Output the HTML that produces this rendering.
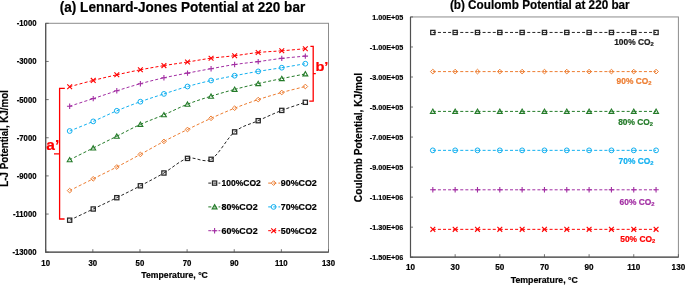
<!DOCTYPE html>
<html><head><meta charset="utf-8"><style>
html,body{margin:0;padding:0;background:#fff;}
body{width:685px;height:285px;overflow:hidden;}
svg{display:block;font-family:"Liberation Sans", sans-serif;will-change:transform;}

</style></head><body>
<svg width="685" height="285" viewBox="0 0 685 285">
<rect width="685" height="285" fill="#fff"/>
<rect x="45.7" y="23.3" width="282.8" height="228.89999999999998" fill="none" stroke="#8C8C8C" stroke-width="1"/>
<path d="M45.7,23.3 V252.2 H328.5" fill="none" stroke="#505050" stroke-width="1.2"/>
<path d="M45.7,23.30 h3" stroke="#505050" stroke-width="0.8"/>
<text transform="translate(36.50,26.30) scale(0.92,1)" font-size="8.4" font-weight="bold" text-anchor="end" fill="#000" stroke="#000" stroke-width="0.2">-1000</text>
<path d="M45.7,61.45 h3" stroke="#505050" stroke-width="0.8"/>
<text transform="translate(36.50,64.45) scale(0.92,1)" font-size="8.4" font-weight="bold" text-anchor="end" fill="#000" stroke="#000" stroke-width="0.2">-3000</text>
<path d="M45.7,99.60 h3" stroke="#505050" stroke-width="0.8"/>
<text transform="translate(36.50,102.60) scale(0.92,1)" font-size="8.4" font-weight="bold" text-anchor="end" fill="#000" stroke="#000" stroke-width="0.2">-5000</text>
<path d="M45.7,137.75 h3" stroke="#505050" stroke-width="0.8"/>
<text transform="translate(36.50,140.75) scale(0.92,1)" font-size="8.4" font-weight="bold" text-anchor="end" fill="#000" stroke="#000" stroke-width="0.2">-7000</text>
<path d="M45.7,175.90 h3" stroke="#505050" stroke-width="0.8"/>
<text transform="translate(36.50,178.90) scale(0.92,1)" font-size="8.4" font-weight="bold" text-anchor="end" fill="#000" stroke="#000" stroke-width="0.2">-9000</text>
<path d="M45.7,214.05 h3" stroke="#505050" stroke-width="0.8"/>
<text transform="translate(36.50,217.05) scale(0.92,1)" font-size="8.4" font-weight="bold" text-anchor="end" fill="#000" stroke="#000" stroke-width="0.2">-11000</text>
<path d="M45.7,252.20 h3" stroke="#505050" stroke-width="0.8"/>
<text transform="translate(36.50,255.20) scale(0.92,1)" font-size="8.4" font-weight="bold" text-anchor="end" fill="#000" stroke="#000" stroke-width="0.2">-13000</text>
<path d="M45.70,252.2 v-3" stroke="#505050" stroke-width="0.8"/>
<text transform="translate(45.70,265.60) scale(0.93,1)" font-size="8.4" font-weight="bold" text-anchor="middle" fill="#000" stroke="#000" stroke-width="0.2">10</text>
<path d="M92.83,252.2 v-3" stroke="#505050" stroke-width="0.8"/>
<text transform="translate(92.83,265.60) scale(0.93,1)" font-size="8.4" font-weight="bold" text-anchor="middle" fill="#000" stroke="#000" stroke-width="0.2">30</text>
<path d="M139.97,252.2 v-3" stroke="#505050" stroke-width="0.8"/>
<text transform="translate(139.97,265.60) scale(0.93,1)" font-size="8.4" font-weight="bold" text-anchor="middle" fill="#000" stroke="#000" stroke-width="0.2">50</text>
<path d="M187.10,252.2 v-3" stroke="#505050" stroke-width="0.8"/>
<text transform="translate(187.10,265.60) scale(0.93,1)" font-size="8.4" font-weight="bold" text-anchor="middle" fill="#000" stroke="#000" stroke-width="0.2">70</text>
<path d="M234.23,252.2 v-3" stroke="#505050" stroke-width="0.8"/>
<text transform="translate(234.23,265.60) scale(0.93,1)" font-size="8.4" font-weight="bold" text-anchor="middle" fill="#000" stroke="#000" stroke-width="0.2">90</text>
<path d="M281.37,252.2 v-3" stroke="#505050" stroke-width="0.8"/>
<text transform="translate(281.37,265.60) scale(0.93,1)" font-size="8.4" font-weight="bold" text-anchor="middle" fill="#000" stroke="#000" stroke-width="0.2">110</text>
<path d="M328.50,252.2 v-3" stroke="#505050" stroke-width="0.8"/>
<text transform="translate(328.50,265.60) scale(0.93,1)" font-size="8.4" font-weight="bold" text-anchor="middle" fill="#000" stroke="#000" stroke-width="0.2">130</text>
<text x="141.3" y="278.2" font-size="9.0" font-weight="bold" text-anchor="start" fill="#000" stroke="#000" stroke-width="0.2" textLength="66.6" lengthAdjust="spacingAndGlyphs">Temperature, °C</text>
<text x="0" y="0" font-size="10.8" font-weight="bold" text-anchor="middle" fill="#000" stroke="#000" stroke-width="0.2" textLength="96.6" lengthAdjust="spacingAndGlyphs" transform="translate(8.3,138.4) rotate(-90)">L-J Potential, KJ/mol</text>
<text x="59.8" y="11.9" font-size="14.3" font-weight="bold" text-anchor="start" fill="#000" stroke="#000" stroke-width="0.2" textLength="245.4" lengthAdjust="spacingAndGlyphs">(a) Lennard-Jones Potential at 220 bar</text>
<path d="M69.67,220.20 C73.59,218.33 85.38,212.75 93.23,209.00 M93.23,209.00 C101.09,205.25 108.94,201.57 116.80,197.70 M116.80,197.70 C124.66,193.83 132.51,189.92 140.37,185.80 M140.37,185.80 C148.22,181.68 156.08,177.57 163.93,173.00 M163.93,173.00 C171.79,168.43 179.64,160.68 187.50,158.40 M187.50,158.40 C195.36,156.12 203.21,163.72 211.07,159.30 M211.07,159.30 C218.92,154.88 226.78,138.33 234.63,131.90 M234.63,131.90 C242.49,125.47 250.34,124.28 258.20,120.70 M258.20,120.70 C266.06,117.12 273.91,113.47 281.77,110.40 M281.77,110.40 C289.62,107.33 301.41,103.65 305.33,102.30" fill="none" stroke="#262626" stroke-width="1.0" stroke-dasharray="3 2.1"/>
<rect x="67.57" y="218.10" width="4.20" height="4.20" fill="none" stroke="#262626" stroke-width="1.25"/>
<rect x="91.13" y="206.90" width="4.20" height="4.20" fill="none" stroke="#262626" stroke-width="1.25"/>
<rect x="114.70" y="195.60" width="4.20" height="4.20" fill="none" stroke="#262626" stroke-width="1.25"/>
<rect x="138.27" y="183.70" width="4.20" height="4.20" fill="none" stroke="#262626" stroke-width="1.25"/>
<rect x="161.83" y="170.90" width="4.20" height="4.20" fill="none" stroke="#262626" stroke-width="1.25"/>
<rect x="185.40" y="156.30" width="4.20" height="4.20" fill="none" stroke="#262626" stroke-width="1.25"/>
<rect x="208.97" y="157.20" width="4.20" height="4.20" fill="none" stroke="#262626" stroke-width="1.25"/>
<rect x="232.53" y="129.80" width="4.20" height="4.20" fill="none" stroke="#262626" stroke-width="1.25"/>
<rect x="256.10" y="118.60" width="4.20" height="4.20" fill="none" stroke="#262626" stroke-width="1.25"/>
<rect x="279.67" y="108.30" width="4.20" height="4.20" fill="none" stroke="#262626" stroke-width="1.25"/>
<rect x="303.23" y="100.20" width="4.20" height="4.20" fill="none" stroke="#262626" stroke-width="1.25"/>
<path d="M69.67,190.60 C73.59,188.63 85.38,182.73 93.23,178.80 M93.23,178.80 C101.09,174.87 108.94,171.07 116.80,167.00 M116.80,167.00 C124.66,162.93 132.51,158.67 140.37,154.40 M140.37,154.40 C148.22,150.13 156.08,145.55 163.93,141.40 M163.93,141.40 C171.79,137.25 179.64,133.35 187.50,129.50 M187.50,129.50 C195.36,125.65 203.21,121.85 211.07,118.30 M211.07,118.30 C218.92,114.75 226.78,111.32 234.63,108.20 M234.63,108.20 C242.49,105.08 250.34,102.22 258.20,99.60 M258.20,99.60 C266.06,96.98 273.91,94.68 281.77,92.50 M281.77,92.50 C289.62,90.32 301.41,87.50 305.33,86.50" fill="none" stroke="#ED7D31" stroke-width="1.0" stroke-dasharray="3 2.1"/>
<path d="M69.67,188.25 L72.02,190.60 L69.67,192.95 L67.32,190.60 Z" fill="none" stroke="#ED7D31" stroke-width="1.0"/>
<path d="M93.23,176.45 L95.58,178.80 L93.23,181.15 L90.88,178.80 Z" fill="none" stroke="#ED7D31" stroke-width="1.0"/>
<path d="M116.80,164.65 L119.15,167.00 L116.80,169.35 L114.45,167.00 Z" fill="none" stroke="#ED7D31" stroke-width="1.0"/>
<path d="M140.37,152.05 L142.72,154.40 L140.37,156.75 L138.02,154.40 Z" fill="none" stroke="#ED7D31" stroke-width="1.0"/>
<path d="M163.93,139.05 L166.28,141.40 L163.93,143.75 L161.58,141.40 Z" fill="none" stroke="#ED7D31" stroke-width="1.0"/>
<path d="M187.50,127.15 L189.85,129.50 L187.50,131.85 L185.15,129.50 Z" fill="none" stroke="#ED7D31" stroke-width="1.0"/>
<path d="M211.07,115.95 L213.42,118.30 L211.07,120.65 L208.72,118.30 Z" fill="none" stroke="#ED7D31" stroke-width="1.0"/>
<path d="M234.63,105.85 L236.98,108.20 L234.63,110.55 L232.28,108.20 Z" fill="none" stroke="#ED7D31" stroke-width="1.0"/>
<path d="M258.20,97.25 L260.55,99.60 L258.20,101.95 L255.85,99.60 Z" fill="none" stroke="#ED7D31" stroke-width="1.0"/>
<path d="M281.77,90.15 L284.12,92.50 L281.77,94.85 L279.42,92.50 Z" fill="none" stroke="#ED7D31" stroke-width="1.0"/>
<path d="M305.33,84.15 L307.68,86.50 L305.33,88.85 L302.98,86.50 Z" fill="none" stroke="#ED7D31" stroke-width="1.0"/>
<path d="M69.67,159.80 C73.59,157.83 85.38,151.93 93.23,148.00 M93.23,148.00 C101.09,144.07 108.94,140.13 116.80,136.20 M116.80,136.20 C124.66,132.27 132.51,127.97 140.37,124.40 M140.37,124.40 C148.22,120.83 156.08,118.17 163.93,114.80 M163.93,114.80 C171.79,111.43 179.64,107.30 187.50,104.20 M187.50,104.20 C195.36,101.10 203.21,98.67 211.07,96.20 M211.07,96.20 C218.92,93.73 226.78,91.50 234.63,89.40 M234.63,89.40 C242.49,87.30 250.34,85.40 258.20,83.60 M258.20,83.60 C266.06,81.80 273.91,80.22 281.77,78.60 M281.77,78.60 C289.62,76.98 301.41,74.68 305.33,73.90" fill="none" stroke="#247B29" stroke-width="1.0" stroke-dasharray="3 2.1"/>
<path d="M69.67,157.50 L72.12,161.80 L67.22,161.80 Z" fill="none" stroke="#247B29" stroke-width="1.1" stroke-linejoin="miter"/>
<path d="M93.23,145.70 L95.68,150.00 L90.78,150.00 Z" fill="none" stroke="#247B29" stroke-width="1.1" stroke-linejoin="miter"/>
<path d="M116.80,133.90 L119.25,138.20 L114.35,138.20 Z" fill="none" stroke="#247B29" stroke-width="1.1" stroke-linejoin="miter"/>
<path d="M140.37,122.10 L142.82,126.40 L137.92,126.40 Z" fill="none" stroke="#247B29" stroke-width="1.1" stroke-linejoin="miter"/>
<path d="M163.93,112.50 L166.38,116.80 L161.48,116.80 Z" fill="none" stroke="#247B29" stroke-width="1.1" stroke-linejoin="miter"/>
<path d="M187.50,101.90 L189.95,106.20 L185.05,106.20 Z" fill="none" stroke="#247B29" stroke-width="1.1" stroke-linejoin="miter"/>
<path d="M211.07,93.90 L213.52,98.20 L208.62,98.20 Z" fill="none" stroke="#247B29" stroke-width="1.1" stroke-linejoin="miter"/>
<path d="M234.63,87.10 L237.08,91.40 L232.18,91.40 Z" fill="none" stroke="#247B29" stroke-width="1.1" stroke-linejoin="miter"/>
<path d="M258.20,81.30 L260.65,85.60 L255.75,85.60 Z" fill="none" stroke="#247B29" stroke-width="1.1" stroke-linejoin="miter"/>
<path d="M281.77,76.30 L284.22,80.60 L279.32,80.60 Z" fill="none" stroke="#247B29" stroke-width="1.1" stroke-linejoin="miter"/>
<path d="M305.33,71.60 L307.78,75.90 L302.88,75.90 Z" fill="none" stroke="#247B29" stroke-width="1.1" stroke-linejoin="miter"/>
<path d="M69.67,131.00 C73.59,129.40 85.38,124.77 93.23,121.40 M93.23,121.40 C101.09,118.03 108.94,114.08 116.80,110.80 M116.80,110.80 C124.66,107.52 132.51,104.52 140.37,101.70 M140.37,101.70 C148.22,98.88 156.08,96.43 163.93,93.90 M163.93,93.90 C171.79,91.37 179.64,88.73 187.50,86.50 M187.50,86.50 C195.36,84.27 203.21,82.30 211.07,80.50 M211.07,80.50 C218.92,78.70 226.78,77.22 234.63,75.70 M234.63,75.70 C242.49,74.18 250.34,72.73 258.20,71.40 M258.20,71.40 C266.06,70.07 273.91,68.98 281.77,67.70 M281.77,67.70 C289.62,66.42 301.41,64.37 305.33,63.70" fill="none" stroke="#12B0F0" stroke-width="1.0" stroke-dasharray="3 2.1"/>
<circle cx="69.67" cy="131.00" r="2.40" fill="none" stroke="#12B0F0" stroke-width="1.0"/>
<circle cx="93.23" cy="121.40" r="2.40" fill="none" stroke="#12B0F0" stroke-width="1.0"/>
<circle cx="116.80" cy="110.80" r="2.40" fill="none" stroke="#12B0F0" stroke-width="1.0"/>
<circle cx="140.37" cy="101.70" r="2.40" fill="none" stroke="#12B0F0" stroke-width="1.0"/>
<circle cx="163.93" cy="93.90" r="2.40" fill="none" stroke="#12B0F0" stroke-width="1.0"/>
<circle cx="187.50" cy="86.50" r="2.40" fill="none" stroke="#12B0F0" stroke-width="1.0"/>
<circle cx="211.07" cy="80.50" r="2.40" fill="none" stroke="#12B0F0" stroke-width="1.0"/>
<circle cx="234.63" cy="75.70" r="2.40" fill="none" stroke="#12B0F0" stroke-width="1.0"/>
<circle cx="258.20" cy="71.40" r="2.40" fill="none" stroke="#12B0F0" stroke-width="1.0"/>
<circle cx="281.77" cy="67.70" r="2.40" fill="none" stroke="#12B0F0" stroke-width="1.0"/>
<circle cx="305.33" cy="63.70" r="2.40" fill="none" stroke="#12B0F0" stroke-width="1.0"/>
<path d="M69.67,106.20 C73.59,104.93 85.38,101.17 93.23,98.60 M93.23,98.60 C101.09,96.03 108.94,93.28 116.80,90.80 M116.80,90.80 C124.66,88.32 132.51,85.87 140.37,83.70 M140.37,83.70 C148.22,81.53 156.08,79.57 163.93,77.80 M163.93,77.80 C171.79,76.03 179.64,74.62 187.50,73.10 M187.50,73.10 C195.36,71.58 203.21,70.13 211.07,68.70 M211.07,68.70 C218.92,67.27 226.78,65.68 234.63,64.50 M234.63,64.50 C242.49,63.32 250.34,62.62 258.20,61.60 M258.20,61.60 C266.06,60.58 273.91,59.32 281.77,58.40 M281.77,58.40 C289.62,57.48 301.41,56.48 305.33,56.10" fill="none" stroke="#A22EA3" stroke-width="1.0" stroke-dasharray="3 2.1"/>
<path d="M66.97,106.20 H72.37 M69.67,103.50 V108.90" stroke="#A22EA3" stroke-width="1.1"/>
<path d="M90.53,98.60 H95.93 M93.23,95.90 V101.30" stroke="#A22EA3" stroke-width="1.1"/>
<path d="M114.10,90.80 H119.50 M116.80,88.10 V93.50" stroke="#A22EA3" stroke-width="1.1"/>
<path d="M137.67,83.70 H143.07 M140.37,81.00 V86.40" stroke="#A22EA3" stroke-width="1.1"/>
<path d="M161.23,77.80 H166.63 M163.93,75.10 V80.50" stroke="#A22EA3" stroke-width="1.1"/>
<path d="M184.80,73.10 H190.20 M187.50,70.40 V75.80" stroke="#A22EA3" stroke-width="1.1"/>
<path d="M208.37,68.70 H213.77 M211.07,66.00 V71.40" stroke="#A22EA3" stroke-width="1.1"/>
<path d="M231.93,64.50 H237.33 M234.63,61.80 V67.20" stroke="#A22EA3" stroke-width="1.1"/>
<path d="M255.50,61.60 H260.90 M258.20,58.90 V64.30" stroke="#A22EA3" stroke-width="1.1"/>
<path d="M279.07,58.40 H284.47 M281.77,55.70 V61.10" stroke="#A22EA3" stroke-width="1.1"/>
<path d="M302.63,56.10 H308.03 M305.33,53.40 V58.80" stroke="#A22EA3" stroke-width="1.1"/>
<path d="M69.67,86.70 C73.59,85.65 85.38,82.38 93.23,80.40 M93.23,80.40 C101.09,78.42 108.94,76.57 116.80,74.80 M116.80,74.80 C124.66,73.03 132.51,71.33 140.37,69.80 M140.37,69.80 C148.22,68.27 156.08,66.90 163.93,65.60 M163.93,65.60 C171.79,64.30 179.64,63.23 187.50,62.00 M187.50,62.00 C195.36,60.77 203.21,59.25 211.07,58.20 M211.07,58.20 C218.92,57.15 226.78,56.65 234.63,55.70 M234.63,55.70 C242.49,54.75 250.34,53.32 258.20,52.50 M258.20,52.50 C266.06,51.68 273.91,51.43 281.77,50.80 M281.77,50.80 C289.62,50.17 301.41,49.05 305.33,48.70" fill="none" stroke="#FF0000" stroke-width="1.0" stroke-dasharray="3 2.1"/>
<path d="M67.27,84.30 L72.07,89.10 M72.07,84.30 L67.27,89.10" stroke="#FF0000" stroke-width="1.1"/>
<path d="M90.83,78.00 L95.63,82.80 M95.63,78.00 L90.83,82.80" stroke="#FF0000" stroke-width="1.1"/>
<path d="M114.40,72.40 L119.20,77.20 M119.20,72.40 L114.40,77.20" stroke="#FF0000" stroke-width="1.1"/>
<path d="M137.97,67.40 L142.77,72.20 M142.77,67.40 L137.97,72.20" stroke="#FF0000" stroke-width="1.1"/>
<path d="M161.53,63.20 L166.33,68.00 M166.33,63.20 L161.53,68.00" stroke="#FF0000" stroke-width="1.1"/>
<path d="M185.10,59.60 L189.90,64.40 M189.90,59.60 L185.10,64.40" stroke="#FF0000" stroke-width="1.1"/>
<path d="M208.67,55.80 L213.47,60.60 M213.47,55.80 L208.67,60.60" stroke="#FF0000" stroke-width="1.1"/>
<path d="M232.23,53.30 L237.03,58.10 M237.03,53.30 L232.23,58.10" stroke="#FF0000" stroke-width="1.1"/>
<path d="M255.80,50.10 L260.60,54.90 M260.60,50.10 L255.80,54.90" stroke="#FF0000" stroke-width="1.1"/>
<path d="M279.37,48.40 L284.17,53.20 M284.17,48.40 L279.37,53.20" stroke="#FF0000" stroke-width="1.1"/>
<path d="M302.93,46.30 L307.73,51.10 M307.73,46.30 L302.93,51.10" stroke="#FF0000" stroke-width="1.1"/>
<path d="M208.3,183.1 H220.3" stroke="#262626" stroke-width="1.0" stroke-dasharray="3 2.1"/>
<rect x="212.50" y="181.00" width="4.20" height="4.20" fill="none" stroke="#262626" stroke-width="1.25"/>
<text x="221.6" y="186.1" font-size="8.3" font-weight="bold" text-anchor="start" fill="#000" stroke="#000" stroke-width="0.2" textLength="39.2" lengthAdjust="spacingAndGlyphs">100%CO2</text>
<path d="M268.2,183.1 H280.2" stroke="#ED7D31" stroke-width="1.0" stroke-dasharray="3 2.1"/>
<path d="M273.60,180.75 L275.95,183.10 L273.60,185.45 L271.25,183.10 Z" fill="none" stroke="#ED7D31" stroke-width="1.0"/>
<text x="280.8" y="186.1" font-size="8.3" font-weight="bold" text-anchor="start" fill="#000" stroke="#000" stroke-width="0.2" textLength="36.0" lengthAdjust="spacingAndGlyphs">90%CO2</text>
<path d="M208.3,206.9 H220.3" stroke="#247B29" stroke-width="1.0" stroke-dasharray="3 2.1"/>
<path d="M214.60,204.60 L217.05,208.90 L212.15,208.90 Z" fill="none" stroke="#247B29" stroke-width="1.1" stroke-linejoin="miter"/>
<text x="221.6" y="209.9" font-size="8.3" font-weight="bold" text-anchor="start" fill="#000" stroke="#000" stroke-width="0.2" textLength="36.0" lengthAdjust="spacingAndGlyphs">80%CO2</text>
<path d="M268.2,206.9 H280.2" stroke="#12B0F0" stroke-width="1.0" stroke-dasharray="3 2.1"/>
<circle cx="273.60" cy="206.90" r="2.40" fill="none" stroke="#12B0F0" stroke-width="1.0"/>
<text x="280.8" y="209.9" font-size="8.3" font-weight="bold" text-anchor="start" fill="#000" stroke="#000" stroke-width="0.2" textLength="36.0" lengthAdjust="spacingAndGlyphs">70%CO2</text>
<path d="M208.3,230.7 H220.3" stroke="#A22EA3" stroke-width="1.0" stroke-dasharray="3 2.1"/>
<path d="M211.90,230.70 H217.30 M214.60,228.00 V233.40" stroke="#A22EA3" stroke-width="1.1"/>
<text x="221.6" y="233.7" font-size="8.3" font-weight="bold" text-anchor="start" fill="#000" stroke="#000" stroke-width="0.2" textLength="36.0" lengthAdjust="spacingAndGlyphs">60%CO2</text>
<path d="M268.2,230.7 H280.2" stroke="#FF0000" stroke-width="1.0" stroke-dasharray="3 2.1"/>
<path d="M271.20,228.30 L276.00,233.10 M276.00,228.30 L271.20,233.10" stroke="#FF0000" stroke-width="1.1"/>
<text x="280.8" y="233.7" font-size="8.3" font-weight="bold" text-anchor="start" fill="#000" stroke="#000" stroke-width="0.2" textLength="36.0" lengthAdjust="spacingAndGlyphs">50%CO2</text>
<path d="M64.8,88.4 H59.6 V219.0 H64.6 M59.6,153.8 H54.0" fill="none" stroke="#FF0000" stroke-width="1.3"/>
<path d="M310.4,46.3 H313.2 V101.2 H309.3 M313.2,73.6 H315.8" fill="none" stroke="#FF0000" stroke-width="1.3"/>
<text x="46.3" y="149.6" font-size="15.5" font-weight="bold" text-anchor="start" fill="#FF0000" stroke="#FF0000" stroke-width="0.2">a’</text>
<text transform="translate(315.40,71.10) scale(1.1,1)" font-size="13.3" font-weight="bold" text-anchor="start" fill="#FF0000" stroke="#FF0000" stroke-width="0.2">b’</text>
<rect x="410.5" y="16.95" width="267.9" height="240.25" fill="none" stroke="#8C8C8C" stroke-width="1"/>
<path d="M410.5,16.95 V257.2 H678.4" fill="none" stroke="#505050" stroke-width="1.2"/>
<path d="M410.5,16.95 h2.5" stroke="#505050" stroke-width="0.8"/>
<text transform="translate(403.30,19.65) scale(0.95,1)" font-size="7.6" font-weight="bold" text-anchor="end" fill="#000" stroke="#000" stroke-width="0.2">1.00E+05</text>
<path d="M410.5,46.98 h2.5" stroke="#505050" stroke-width="0.8"/>
<text transform="translate(403.30,49.68) scale(0.95,1)" font-size="7.6" font-weight="bold" text-anchor="end" fill="#000" stroke="#000" stroke-width="0.2">-1.00E+05</text>
<path d="M410.5,77.01 h2.5" stroke="#505050" stroke-width="0.8"/>
<text transform="translate(403.30,79.71) scale(0.95,1)" font-size="7.6" font-weight="bold" text-anchor="end" fill="#000" stroke="#000" stroke-width="0.2">-3.00E+05</text>
<path d="M410.5,107.04 h2.5" stroke="#505050" stroke-width="0.8"/>
<text transform="translate(403.30,109.74) scale(0.95,1)" font-size="7.6" font-weight="bold" text-anchor="end" fill="#000" stroke="#000" stroke-width="0.2">-5.00E+05</text>
<path d="M410.5,137.07 h2.5" stroke="#505050" stroke-width="0.8"/>
<text transform="translate(403.30,139.77) scale(0.95,1)" font-size="7.6" font-weight="bold" text-anchor="end" fill="#000" stroke="#000" stroke-width="0.2">-7.00E+05</text>
<path d="M410.5,167.11 h2.5" stroke="#505050" stroke-width="0.8"/>
<text transform="translate(403.30,169.81) scale(0.95,1)" font-size="7.6" font-weight="bold" text-anchor="end" fill="#000" stroke="#000" stroke-width="0.2">-9.00E+05</text>
<path d="M410.5,197.14 h2.5" stroke="#505050" stroke-width="0.8"/>
<text transform="translate(403.30,199.84) scale(0.95,1)" font-size="7.6" font-weight="bold" text-anchor="end" fill="#000" stroke="#000" stroke-width="0.2">-1.10E+06</text>
<path d="M410.5,227.17 h2.5" stroke="#505050" stroke-width="0.8"/>
<text transform="translate(403.30,229.87) scale(0.95,1)" font-size="7.6" font-weight="bold" text-anchor="end" fill="#000" stroke="#000" stroke-width="0.2">-1.30E+06</text>
<path d="M410.5,257.20 h2.5" stroke="#505050" stroke-width="0.8"/>
<text transform="translate(403.30,259.90) scale(0.95,1)" font-size="7.6" font-weight="bold" text-anchor="end" fill="#000" stroke="#000" stroke-width="0.2">-1.50E+06</text>
<path d="M410.50,257.2 v-3" stroke="#505050" stroke-width="0.8"/>
<text transform="translate(410.50,270.40) scale(0.96,1)" font-size="8.5" font-weight="bold" text-anchor="middle" fill="#000" stroke="#000" stroke-width="0.2">10</text>
<path d="M455.15,257.2 v-3" stroke="#505050" stroke-width="0.8"/>
<text transform="translate(455.15,270.40) scale(0.96,1)" font-size="8.5" font-weight="bold" text-anchor="middle" fill="#000" stroke="#000" stroke-width="0.2">30</text>
<path d="M499.80,257.2 v-3" stroke="#505050" stroke-width="0.8"/>
<text transform="translate(499.80,270.40) scale(0.96,1)" font-size="8.5" font-weight="bold" text-anchor="middle" fill="#000" stroke="#000" stroke-width="0.2">50</text>
<path d="M544.45,257.2 v-3" stroke="#505050" stroke-width="0.8"/>
<text transform="translate(544.45,270.40) scale(0.96,1)" font-size="8.5" font-weight="bold" text-anchor="middle" fill="#000" stroke="#000" stroke-width="0.2">70</text>
<path d="M589.10,257.2 v-3" stroke="#505050" stroke-width="0.8"/>
<text transform="translate(589.10,270.40) scale(0.96,1)" font-size="8.5" font-weight="bold" text-anchor="middle" fill="#000" stroke="#000" stroke-width="0.2">90</text>
<path d="M633.75,257.2 v-3" stroke="#505050" stroke-width="0.8"/>
<text transform="translate(633.75,270.40) scale(0.96,1)" font-size="8.5" font-weight="bold" text-anchor="middle" fill="#000" stroke="#000" stroke-width="0.2">110</text>
<path d="M678.40,257.2 v-3" stroke="#505050" stroke-width="0.8"/>
<text transform="translate(678.40,270.40) scale(0.96,1)" font-size="8.5" font-weight="bold" text-anchor="middle" fill="#000" stroke="#000" stroke-width="0.2">130</text>
<text x="510.7" y="283.0" font-size="9.9" font-weight="bold" text-anchor="start" fill="#000" stroke="#000" stroke-width="0.2" textLength="67.2" lengthAdjust="spacingAndGlyphs">Temperature, °C</text>
<text x="0" y="0" font-size="11.8" font-weight="bold" text-anchor="middle" fill="#000" stroke="#000" stroke-width="0.2" textLength="129.3" lengthAdjust="spacingAndGlyphs" transform="translate(362.0,137.5) rotate(-90)">Coulomb Potential, KJ/mol</text>
<text x="449.9" y="8.8" font-size="12.8" font-weight="bold" text-anchor="start" fill="#000" stroke="#000" stroke-width="0.2" textLength="179.8" lengthAdjust="spacingAndGlyphs">(b) Coulomb Potential at 220 bar</text>
<path d="M432.82,32.45 H455.15 M455.15,32.45 H477.48 M477.48,32.45 H499.80 M499.80,32.45 H522.12 M522.12,32.45 H544.45 M544.45,32.45 H566.77 M566.77,32.45 H589.10 M589.10,32.45 H611.42 M611.42,32.45 H633.75 M633.75,32.45 H656.07" stroke="#262626" stroke-width="1.0" stroke-dasharray="3 2.1"/>
<rect x="430.72" y="30.35" width="4.20" height="4.20" fill="none" stroke="#262626" stroke-width="1.25"/>
<rect x="453.05" y="30.35" width="4.20" height="4.20" fill="none" stroke="#262626" stroke-width="1.25"/>
<rect x="475.38" y="30.35" width="4.20" height="4.20" fill="none" stroke="#262626" stroke-width="1.25"/>
<rect x="497.70" y="30.35" width="4.20" height="4.20" fill="none" stroke="#262626" stroke-width="1.25"/>
<rect x="520.02" y="30.35" width="4.20" height="4.20" fill="none" stroke="#262626" stroke-width="1.25"/>
<rect x="542.35" y="30.35" width="4.20" height="4.20" fill="none" stroke="#262626" stroke-width="1.25"/>
<rect x="564.67" y="30.35" width="4.20" height="4.20" fill="none" stroke="#262626" stroke-width="1.25"/>
<rect x="587.00" y="30.35" width="4.20" height="4.20" fill="none" stroke="#262626" stroke-width="1.25"/>
<rect x="609.32" y="30.35" width="4.20" height="4.20" fill="none" stroke="#262626" stroke-width="1.25"/>
<rect x="631.65" y="30.35" width="4.20" height="4.20" fill="none" stroke="#262626" stroke-width="1.25"/>
<rect x="653.97" y="30.35" width="4.20" height="4.20" fill="none" stroke="#262626" stroke-width="1.25"/>
<path d="M432.82,71.6 H455.15 M455.15,71.6 H477.48 M477.48,71.6 H499.80 M499.80,71.6 H522.12 M522.12,71.6 H544.45 M544.45,71.6 H566.77 M566.77,71.6 H589.10 M589.10,71.6 H611.42 M611.42,71.6 H633.75 M633.75,71.6 H656.07" stroke="#ED7D31" stroke-width="1.0" stroke-dasharray="3 2.1"/>
<path d="M432.82,69.25 L435.18,71.60 L432.82,73.95 L430.47,71.60 Z" fill="none" stroke="#ED7D31" stroke-width="1.0"/>
<path d="M455.15,69.25 L457.50,71.60 L455.15,73.95 L452.80,71.60 Z" fill="none" stroke="#ED7D31" stroke-width="1.0"/>
<path d="M477.48,69.25 L479.83,71.60 L477.48,73.95 L475.12,71.60 Z" fill="none" stroke="#ED7D31" stroke-width="1.0"/>
<path d="M499.80,69.25 L502.15,71.60 L499.80,73.95 L497.45,71.60 Z" fill="none" stroke="#ED7D31" stroke-width="1.0"/>
<path d="M522.12,69.25 L524.48,71.60 L522.12,73.95 L519.77,71.60 Z" fill="none" stroke="#ED7D31" stroke-width="1.0"/>
<path d="M544.45,69.25 L546.80,71.60 L544.45,73.95 L542.10,71.60 Z" fill="none" stroke="#ED7D31" stroke-width="1.0"/>
<path d="M566.77,69.25 L569.12,71.60 L566.77,73.95 L564.42,71.60 Z" fill="none" stroke="#ED7D31" stroke-width="1.0"/>
<path d="M589.10,69.25 L591.45,71.60 L589.10,73.95 L586.75,71.60 Z" fill="none" stroke="#ED7D31" stroke-width="1.0"/>
<path d="M611.42,69.25 L613.77,71.60 L611.42,73.95 L609.07,71.60 Z" fill="none" stroke="#ED7D31" stroke-width="1.0"/>
<path d="M633.75,69.25 L636.10,71.60 L633.75,73.95 L631.40,71.60 Z" fill="none" stroke="#ED7D31" stroke-width="1.0"/>
<path d="M656.07,69.25 L658.42,71.60 L656.07,73.95 L653.72,71.60 Z" fill="none" stroke="#ED7D31" stroke-width="1.0"/>
<path d="M432.82,111.4 H455.15 M455.15,111.4 H477.48 M477.48,111.4 H499.80 M499.80,111.4 H522.12 M522.12,111.4 H544.45 M544.45,111.4 H566.77 M566.77,111.4 H589.10 M589.10,111.4 H611.42 M611.42,111.4 H633.75 M633.75,111.4 H656.07" stroke="#247B29" stroke-width="1.0" stroke-dasharray="3 2.1"/>
<path d="M432.82,109.10 L435.27,113.40 L430.38,113.40 Z" fill="none" stroke="#247B29" stroke-width="1.1" stroke-linejoin="miter"/>
<path d="M455.15,109.10 L457.60,113.40 L452.70,113.40 Z" fill="none" stroke="#247B29" stroke-width="1.1" stroke-linejoin="miter"/>
<path d="M477.48,109.10 L479.93,113.40 L475.03,113.40 Z" fill="none" stroke="#247B29" stroke-width="1.1" stroke-linejoin="miter"/>
<path d="M499.80,109.10 L502.25,113.40 L497.35,113.40 Z" fill="none" stroke="#247B29" stroke-width="1.1" stroke-linejoin="miter"/>
<path d="M522.12,109.10 L524.58,113.40 L519.67,113.40 Z" fill="none" stroke="#247B29" stroke-width="1.1" stroke-linejoin="miter"/>
<path d="M544.45,109.10 L546.90,113.40 L542.00,113.40 Z" fill="none" stroke="#247B29" stroke-width="1.1" stroke-linejoin="miter"/>
<path d="M566.77,109.10 L569.23,113.40 L564.32,113.40 Z" fill="none" stroke="#247B29" stroke-width="1.1" stroke-linejoin="miter"/>
<path d="M589.10,109.10 L591.55,113.40 L586.65,113.40 Z" fill="none" stroke="#247B29" stroke-width="1.1" stroke-linejoin="miter"/>
<path d="M611.42,109.10 L613.88,113.40 L608.97,113.40 Z" fill="none" stroke="#247B29" stroke-width="1.1" stroke-linejoin="miter"/>
<path d="M633.75,109.10 L636.20,113.40 L631.30,113.40 Z" fill="none" stroke="#247B29" stroke-width="1.1" stroke-linejoin="miter"/>
<path d="M656.07,109.10 L658.52,113.40 L653.62,113.40 Z" fill="none" stroke="#247B29" stroke-width="1.1" stroke-linejoin="miter"/>
<path d="M432.82,150.35 H455.15 M455.15,150.35 H477.48 M477.48,150.35 H499.80 M499.80,150.35 H522.12 M522.12,150.35 H544.45 M544.45,150.35 H566.77 M566.77,150.35 H589.10 M589.10,150.35 H611.42 M611.42,150.35 H633.75 M633.75,150.35 H656.07" stroke="#12B0F0" stroke-width="1.0" stroke-dasharray="3 2.1"/>
<circle cx="432.82" cy="150.35" r="2.40" fill="none" stroke="#12B0F0" stroke-width="1.0"/>
<circle cx="455.15" cy="150.35" r="2.40" fill="none" stroke="#12B0F0" stroke-width="1.0"/>
<circle cx="477.48" cy="150.35" r="2.40" fill="none" stroke="#12B0F0" stroke-width="1.0"/>
<circle cx="499.80" cy="150.35" r="2.40" fill="none" stroke="#12B0F0" stroke-width="1.0"/>
<circle cx="522.12" cy="150.35" r="2.40" fill="none" stroke="#12B0F0" stroke-width="1.0"/>
<circle cx="544.45" cy="150.35" r="2.40" fill="none" stroke="#12B0F0" stroke-width="1.0"/>
<circle cx="566.77" cy="150.35" r="2.40" fill="none" stroke="#12B0F0" stroke-width="1.0"/>
<circle cx="589.10" cy="150.35" r="2.40" fill="none" stroke="#12B0F0" stroke-width="1.0"/>
<circle cx="611.42" cy="150.35" r="2.40" fill="none" stroke="#12B0F0" stroke-width="1.0"/>
<circle cx="633.75" cy="150.35" r="2.40" fill="none" stroke="#12B0F0" stroke-width="1.0"/>
<circle cx="656.07" cy="150.35" r="2.40" fill="none" stroke="#12B0F0" stroke-width="1.0"/>
<path d="M432.82,189.8 H455.15 M455.15,189.8 H477.48 M477.48,189.8 H499.80 M499.80,189.8 H522.12 M522.12,189.8 H544.45 M544.45,189.8 H566.77 M566.77,189.8 H589.10 M589.10,189.8 H611.42 M611.42,189.8 H633.75 M633.75,189.8 H656.07" stroke="#A22EA3" stroke-width="1.0" stroke-dasharray="3 2.1"/>
<path d="M430.12,189.80 H435.52 M432.82,187.10 V192.50" stroke="#A22EA3" stroke-width="1.1"/>
<path d="M452.45,189.80 H457.85 M455.15,187.10 V192.50" stroke="#A22EA3" stroke-width="1.1"/>
<path d="M474.78,189.80 H480.18 M477.48,187.10 V192.50" stroke="#A22EA3" stroke-width="1.1"/>
<path d="M497.10,189.80 H502.50 M499.80,187.10 V192.50" stroke="#A22EA3" stroke-width="1.1"/>
<path d="M519.42,189.80 H524.83 M522.12,187.10 V192.50" stroke="#A22EA3" stroke-width="1.1"/>
<path d="M541.75,189.80 H547.15 M544.45,187.10 V192.50" stroke="#A22EA3" stroke-width="1.1"/>
<path d="M564.07,189.80 H569.48 M566.77,187.10 V192.50" stroke="#A22EA3" stroke-width="1.1"/>
<path d="M586.40,189.80 H591.80 M589.10,187.10 V192.50" stroke="#A22EA3" stroke-width="1.1"/>
<path d="M608.72,189.80 H614.12 M611.42,187.10 V192.50" stroke="#A22EA3" stroke-width="1.1"/>
<path d="M631.05,189.80 H636.45 M633.75,187.10 V192.50" stroke="#A22EA3" stroke-width="1.1"/>
<path d="M653.37,189.80 H658.77 M656.07,187.10 V192.50" stroke="#A22EA3" stroke-width="1.1"/>
<path d="M432.82,229.35 H455.15 M455.15,229.35 H477.48 M477.48,229.35 H499.80 M499.80,229.35 H522.12 M522.12,229.35 H544.45 M544.45,229.35 H566.77 M566.77,229.35 H589.10 M589.10,229.35 H611.42 M611.42,229.35 H633.75 M633.75,229.35 H656.07" stroke="#FF0000" stroke-width="1.0" stroke-dasharray="3 2.1"/>
<path d="M430.43,226.95 L435.22,231.75 M435.22,226.95 L430.43,231.75" stroke="#FF0000" stroke-width="1.1"/>
<path d="M452.75,226.95 L457.55,231.75 M457.55,226.95 L452.75,231.75" stroke="#FF0000" stroke-width="1.1"/>
<path d="M475.08,226.95 L479.88,231.75 M479.88,226.95 L475.08,231.75" stroke="#FF0000" stroke-width="1.1"/>
<path d="M497.40,226.95 L502.20,231.75 M502.20,226.95 L497.40,231.75" stroke="#FF0000" stroke-width="1.1"/>
<path d="M519.73,226.95 L524.52,231.75 M524.52,226.95 L519.73,231.75" stroke="#FF0000" stroke-width="1.1"/>
<path d="M542.05,226.95 L546.85,231.75 M546.85,226.95 L542.05,231.75" stroke="#FF0000" stroke-width="1.1"/>
<path d="M564.38,226.95 L569.17,231.75 M569.17,226.95 L564.38,231.75" stroke="#FF0000" stroke-width="1.1"/>
<path d="M586.70,226.95 L591.50,231.75 M591.50,226.95 L586.70,231.75" stroke="#FF0000" stroke-width="1.1"/>
<path d="M609.02,226.95 L613.82,231.75 M613.82,226.95 L609.02,231.75" stroke="#FF0000" stroke-width="1.1"/>
<path d="M631.35,226.95 L636.15,231.75 M636.15,226.95 L631.35,231.75" stroke="#FF0000" stroke-width="1.1"/>
<path d="M653.67,226.95 L658.47,231.75 M658.47,226.95 L653.67,231.75" stroke="#FF0000" stroke-width="1.1"/>
<text x="614.2" y="45.2" font-size="8.4" font-weight="bold" fill="#1a1a1a" stroke="#1a1a1a" stroke-width="0.2">100% CO<tspan font-size="5.8" dy="0.9">2</tspan></text>
<text x="616.6" y="83.9" font-size="8.4" font-weight="bold" fill="#ED7D31" stroke="#ED7D31" stroke-width="0.2">90% CO<tspan font-size="5.8" dy="0.9">2</tspan></text>
<text x="618.2" y="125.2" font-size="8.4" font-weight="bold" fill="#247B29" stroke="#247B29" stroke-width="0.2">80% CO<tspan font-size="5.8" dy="0.9">2</tspan></text>
<text x="618.6" y="164.3" font-size="8.4" font-weight="bold" fill="#12B0F0" stroke="#12B0F0" stroke-width="0.2">70% CO<tspan font-size="5.8" dy="0.9">2</tspan></text>
<text x="619.6" y="204.8" font-size="8.4" font-weight="bold" fill="#A22EA3" stroke="#A22EA3" stroke-width="0.2">60% CO<tspan font-size="5.8" dy="0.9">2</tspan></text>
<text x="620.3" y="241.8" font-size="8.4" font-weight="bold" fill="#FF0000" stroke="#FF0000" stroke-width="0.2">50% CO<tspan font-size="5.8" dy="0.9">2</tspan></text>
</svg>
</body></html>
